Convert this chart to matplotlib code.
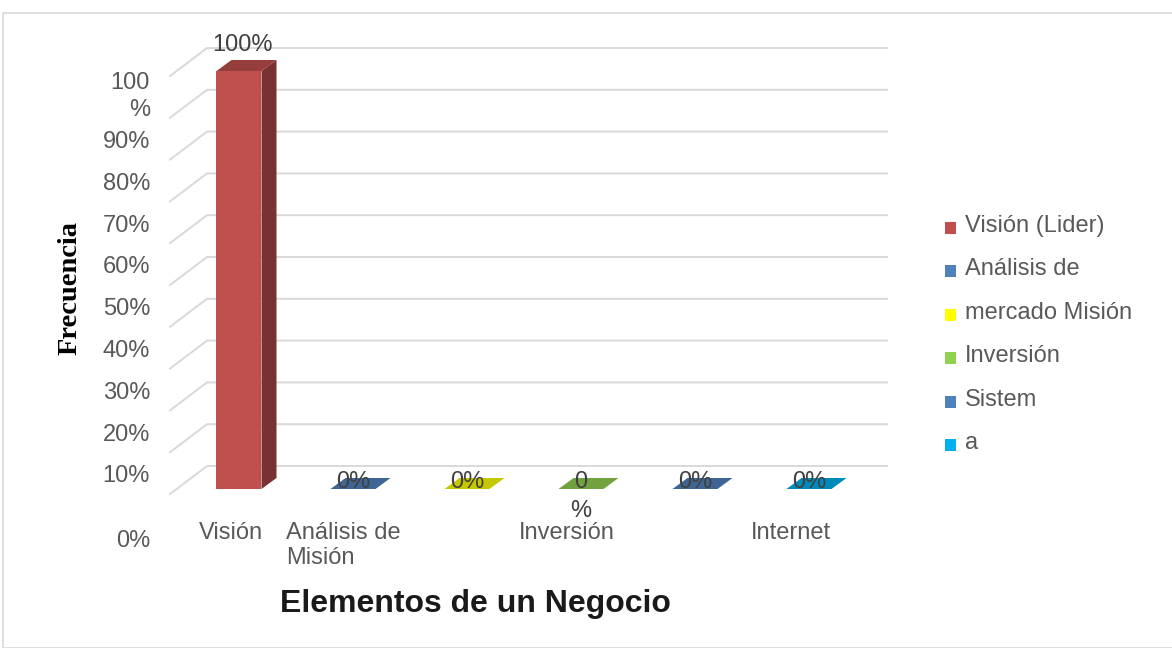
import matplotlib.pyplot as plt
from matplotlib.patches import Polygon, Rectangle

# datos del grafico
valores = [100, 0, 0, 0, 0, 0]
colores = ["#C0504D", "#4F81BD", "#FFFF00", "#92D050", "#4F81BD", "#00B0F0"]
etiquetas_x = ["Visión", "Análisis de\nMisión", "", "Inversión", "", "Internet"]
leyenda = ["Visión (Lider)", "Análisis de", "mercado Misión", "Inversión", "Sistem", "a"]
ticks_y = [0, 10, 20, 30, 40, 50, 60, 70, 80, 90, 100]
etiquetas_y = ["0%", "10%", "20%", "30%", "40%", "50%", "60%", "70%", "80%", "90%", "100\n%"]
cortar = [3]  # etiqueta de dato que sale partida en dos lineas

W, H = 1172, 648
SLOT = 114.0   # px por categoria
PCT = 4.18     # px por punto porcentual
X0, Y0 = 239, 489

fig = plt.figure(figsize=(W / 100, H / 100), dpi=100)
ax = fig.add_axes([0, 0, 1, 1])
ax.set_xlim(-X0 / SLOT, (W - X0) / SLOT)
ax.set_ylim(-(H - Y0) / PCT, Y0 / PCT)
ax.axis("off")

def px(n):
    return n / SLOT

def py(n):
    return n / PCT

gris = "#595959"
fuente = "Liberation Sans"
fs = 17

# borde del area del grafico
fig.patches.append(Rectangle((3 / W, 0), 1.2, 1 - 13 / H, transform=fig.transFigure,
                             fill=False, edgecolor="#D9D9D9", lw=1.2))

# lineas de division: pared lateral inclinada + tramo horizontal del fondo
fondo_dy = py(23)
for v in ticks_y:
    yb = v + fondo_dy
    yf = yb - py(28)
    ax.plot([px(170 - X0), px(207 - X0), px(887 - X0)], [yf, yb, yb],
            color="#D9D9D9", lw=1.4, zorder=1, solid_joinstyle="miter")

# etiquetas del eje vertical
for v, t in zip(ticks_y, etiquetas_y):
    if v == 0:
        y = v - 12.4
    elif v == 100:
        y = v - 6.0
    else:
        y = v - 7.0
    ax.text(px(150 - X0), y, t, ha="right", va="center", multialignment="right",
            fontsize=fs, color=gris, family=fuente, linespacing=1.3)

# barras con efecto 3d
hw = px(22.5)
dx, dy = px(15), py(11)

def oscuro(c, f):
    r, g, b = [int(c[i:i + 2], 16) / 255 for i in (1, 3, 5)]
    return (r * f, g * f, b * f)

for i, (v, c) in enumerate(zip(valores, colores)):
    if v > 0:
        ax.add_patch(Rectangle((i - hw, 0), 2 * hw, v, facecolor=c, edgecolor="none", zorder=3))
        ax.add_patch(Polygon([(i + hw, 0), (i + hw + dx, dy), (i + hw + dx, v + dy), (i + hw, v)],
                             facecolor=oscuro(c, 0.63), edgecolor="none", zorder=3))
    ax.add_patch(Polygon([(i - hw, v), (i - hw + dx, v + dy), (i + hw + dx, v + dy), (i + hw, v)],
                         facecolor=oscuro(c, 0.78), edgecolor="none", zorder=3))

    txt = f"{v:.0f}%"
    if i in cortar:
        txt = txt.replace("%", "\n%")
    if v > 0:
        ax.text(i + 0.03, v + dy + py(4), txt, ha="center", va="bottom",
                fontsize=fs, color="#404040", family=fuente, zorder=5)
    else:
        ax.text(i, v + py(18), txt, ha="center", va="top", fontsize=fs,
                color="#404040", family=fuente, zorder=5, linespacing=1.4)

# etiquetas de categorias
for i, t in enumerate(etiquetas_x):
    if t:
        ax.text(i - px(8 + 2 * i), -py(33), t, ha="center", va="top", multialignment="left",
                fontsize=fs, color=gris, family=fuente, linespacing=1.15)

# titulos de los ejes
fig.text(475 / W, 1 - 604 / H, "Elementos de un Negocio", ha="center", va="center",
         fontsize=23, fontweight="bold", color="#1a1a1a", family=fuente)
fig.text(70 / W, 1 - 288 / H, "Frecuencia", ha="center", va="center", rotation=90,
         fontsize=20.5, fontweight="bold", color="black", family="Liberation Serif")

# leyenda
for k, (t, c) in enumerate(zip(leyenda, colores)):
    yc = 226 + 43.4 * k
    fig.patches.append(Rectangle((945 / W, 1 - (yc + 8) / H), 11 / W, 12 / H,
                                 transform=fig.transFigure, facecolor=c, edgecolor="none"))
    fig.text(965 / W, 1 - yc / H, t, ha="left", va="center", fontsize=fs,
             color=gris, family=fuente)

fig.savefig("out.png", dpi=100)
